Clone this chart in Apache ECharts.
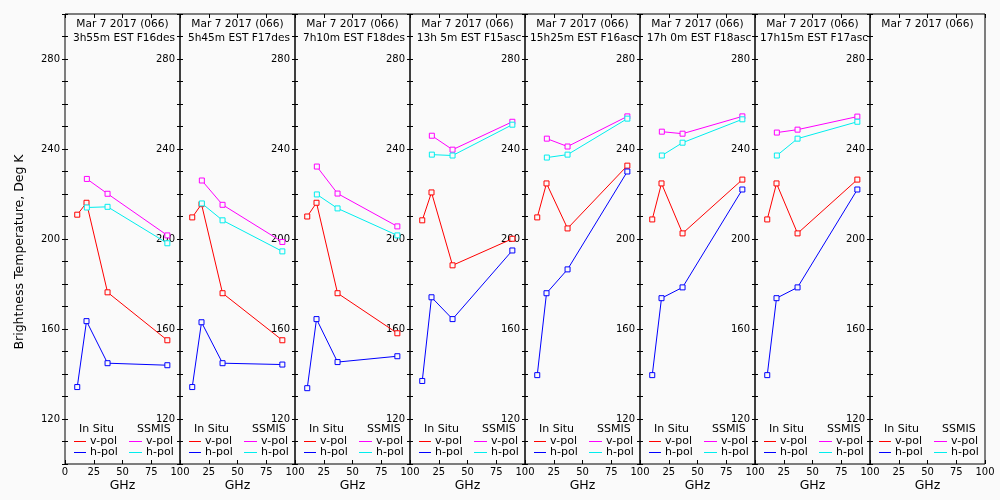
<!DOCTYPE html>
<html>
<head>
<meta charset="utf-8">
<script src="https://cdn.jsdelivr.net/npm/echarts@6/dist/echarts.min.js"></script>
<style>
html,body{margin:0;padding:0;background:#fafafa;}
#chart{width:1000px;height:500px;}
</style>
</head>
<body>
<div id="chart"></div>
<script>
// ---- data ----
const inSituFreq = [10.65, 18.7, 37, 89];
const ssmisFreq = [19, 37, 89];
const headerLine1 = ["Mar 7 2017 (066)", "Mar 7 2017 (066)", "Mar 7 2017 (066)", "Mar 7 2017 (066)",
                     "Mar 7 2017 (066)", "Mar 7 2017 (066)", "Mar 7 2017 (066)", "Mar 7 2017 (066)"];
const headerLine2 = ["3h55m EST F16des", "5h45m EST F17des", "7h10m EST F18des", "13h 5m EST F15asc",
                     "15h25m EST F16asc", "17h 0m EST F18asc", "17h15m EST F17asc", ""];
const inSituV = [
  [210.8, 216.1, 176.3, 155.0],
  [209.6, 215.5, 175.9, 155.0],
  [210.0, 216.1, 175.9, 158.1],
  [208.3, 220.7, 188.3, 200.1],
  [209.6, 224.7, 204.7, 232.6],
  [208.7, 224.7, 202.5, 226.4],
  [208.7, 224.7, 202.5, 226.4],
  []
];
const inSituH = [
  [134.2, 163.5, 144.8, 143.9],
  [134.2, 163.0, 144.8, 144.2],
  [133.7, 164.4, 145.3, 147.9],
  [136.9, 174.1, 164.4, 194.9],
  [139.5, 175.9, 186.5, 230.0],
  [139.5, 173.7, 178.5, 222.0],
  [139.5, 173.7, 178.5, 222.0],
  []
];
const ssmisV = [
  [226.7, 220.1, 201.6],
  [226.0, 215.2, 198.7],
  [232.2, 220.2, 205.6],
  [245.9, 239.7, 252.1],
  [244.6, 241.1, 254.5],
  [247.7, 246.8, 254.5],
  [247.3, 248.6, 254.4],
  []
];
const ssmisH = [
  [214.0, 214.3, 198.1],
  [215.8, 208.3, 194.5],
  [219.8, 213.6, 201.6],
  [237.5, 237.1, 250.8],
  [236.2, 237.5, 253.5],
  [237.1, 242.8, 253.2],
  [237.1, 244.6, 252.1],
  []
];
const yTickLabels = [120, 160, 200, 240, 280];
const xTickLabels = [0, 25, 50, 75, 100];
const legendLabels = {inSitu: "In Situ", ssmis: "SSMIS", v: "v-pol", h: "h-pol"};
const yTitle = "Brightness Temperature, Deg K";
const xTitle = "GHz";

// ---- layout / style ----
const FONT = "DejaVu Sans";
const nPanels = 8, panelLeft = 65, panelW = 115, panelTop = 14, panelH = 450;
const colors = {v: "#ff0000", h: "#0000ff", sv: "#ff00ff", sh: "#00eeee"};
const bg = "#fafafa";

const grids = [], xAxes = [], yAxes = [], series = [], graphics = [];

function pairs(xs, ys) { return ys.map((y, k) => [xs[k], y]); }
function mkSeries(i, xs, ys, c) {
  return {
    type: "line", xAxisIndex: 2 * i, yAxisIndex: 2 * i,
    data: pairs(xs, ys), symbol: "rect", symbolSize: 5, showSymbol: true,
    lineStyle: {color: c, width: 1}, itemStyle: {color: bg, borderColor: c, borderWidth: 1},
    animation: false, silent: true, z: 3
  };
}

for (let i = 0; i < nPanels; i++) {
  const L = panelLeft + panelW * i;
  grids.push({left: L, top: panelTop, width: panelW, height: panelH, show: true,
              borderColor: "#000", borderWidth: 1, backgroundColor: "transparent"});
  xAxes.push({type: "value", gridIndex: i, min: 0, max: 100, interval: 25, position: "bottom",
    axisLine: {show: false}, splitLine: {show: false},
    axisTick: {inside: true, length: 4, lineStyle: {color: "#000"}},
    axisLabel: {color: "#000", fontFamily: FONT, fontSize: 10, margin: 3,
      formatter: v => (xTickLabels.indexOf(v) >= 0 && !(i > 0 && v === 0)) ? String(v) : ""}});
  xAxes.push({type: "value", gridIndex: i, min: 0, max: 100, interval: 25, position: "top",
    axisLine: {show: false}, splitLine: {show: false},
    axisTick: {inside: true, length: 4, lineStyle: {color: "#000"}},
    axisLabel: {show: false}});
  yAxes.push({type: "value", gridIndex: i, min: 100, max: 300, interval: 10, position: "left",
    axisLine: {show: false}, splitLine: {show: false},
    axisTick: {inside: false, length: 3, lineStyle: {color: "#000"}},
    axisLabel: {color: "#000", fontFamily: FONT, fontSize: 10, margin: 5,
      formatter: v => yTickLabels.indexOf(v) >= 0 ? String(v) : ""}});
  yAxes.push({type: "value", gridIndex: i, min: 100, max: 300, interval: 10, position: "left",
    axisLine: {show: false}, splitLine: {show: false},
    axisTick: {inside: true, length: 3, lineStyle: {color: "#000"}},
    axisLabel: {show: false}});

  if (inSituV[i].length) series.push(mkSeries(i, inSituFreq, inSituV[i], colors.v));
  if (inSituH[i].length) series.push(mkSeries(i, inSituFreq, inSituH[i], colors.h));
  if (ssmisV[i].length) series.push(mkSeries(i, ssmisFreq, ssmisV[i], colors.sv));
  if (ssmisH[i].length) series.push(mkSeries(i, ssmisFreq, ssmisH[i], colors.sh));

  const cx = L + panelW / 2;
  const tstyle = (x, y, t, size, align) => ({type: "text", x: x, y: y, silent: true,
    style: {text: t, fill: "#000", font: size + "px '" + FONT + "'", textAlign: align || "left", textVerticalAlign: "middle"}});
  graphics.push(tstyle(cx, 24, headerLine1[i], 10.6, "center"));
  graphics.push(tstyle(cx + 1.5, 38, headerLine2[i], 10.6, "center"));
  graphics.push(tstyle(cx, 486, xTitle, 12.5, "center"));
  // legend
  graphics.push(tstyle(L + 14, 429, legendLabels.inSitu, 11));
  graphics.push(tstyle(L + 72, 429, legendLabels.ssmis, 11));
  const seg = (x1, x2, y, c) => ({type: "line", silent: true, shape: {x1: x1, y1: y, x2: x2, y2: y},
    style: {stroke: c, lineWidth: 1}});
  graphics.push(seg(L + 9, L + 21, 441.5, colors.v));
  graphics.push(seg(L + 9, L + 21, 452.5, colors.h));
  graphics.push(seg(L + 64, L + 77, 441.5, colors.sv));
  graphics.push(seg(L + 64, L + 77, 452.5, colors.sh));
  graphics.push(tstyle(L + 25, 441.5, legendLabels.v, 11));
  graphics.push(tstyle(L + 25, 452.5, legendLabels.h, 11));
  graphics.push(tstyle(L + 81, 441.5, legendLabels.v, 11));
  graphics.push(tstyle(L + 81, 452.5, legendLabels.h, 11));
}
graphics.push({type: "text", x: 20, y: 252, rotation: Math.PI / 2, silent: true,
  style: {text: yTitle, fill: "#000", font: "12.5px '" + FONT + "'", textAlign: "center", textVerticalAlign: "middle"}});

const chart = echarts.init(document.getElementById("chart"), null, {renderer: "canvas"});
chart.setOption({
  backgroundColor: bg,
  animation: false,
  grid: grids, xAxis: xAxes, yAxis: yAxes, series: series,
  graphic: graphics
});
</script>
</body>
</html>
